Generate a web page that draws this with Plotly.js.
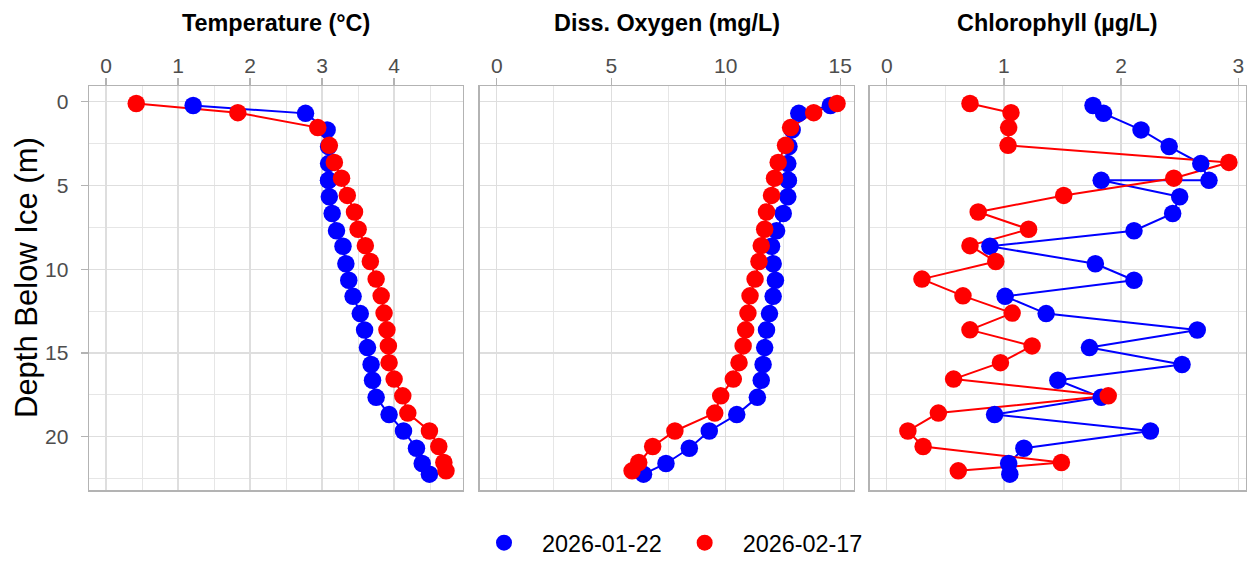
<!DOCTYPE html>
<html>
<head>
<meta charset="utf-8">
<script src="https://cdn.plot.ly/plotly-3.0.1.min.js"></script>
<style>html,body{margin:0;padding:0;background:#fff;}#chart{width:1248px;height:565px;}</style>
</head>
<body>
<div id="chart"></div>
<script>
// ---- Data ----
const seriesNames = ["2026-01-22", "2026-02-17"];
const panelTitles = ["Temperature (°C)", "Diss. Oxygen (mg/L)", "Chlorophyll (µg/L)"];
const yTitle = "Depth Below Ice (m)";

const depthJan = [0.22, 0.69, 1.68, 2.67, 3.69, 4.69, 4.69, 5.67, 6.67, 7.70, 8.63, 9.67, 10.66, 11.62, 12.65, 13.63, 14.68, 15.69, 16.63, 17.65, 18.68, 19.66, 20.69, 21.60, 22.24];
const tempJan  = [1.21, 2.77, 3.07, 3.09, 3.09, 3.09, 3.09, 3.10, 3.14, 3.20, 3.29, 3.33, 3.37, 3.43, 3.53, 3.59, 3.63, 3.68, 3.70, 3.75, 3.93, 4.13, 4.31, 4.39, 4.49];
const doJan    = [14.57, 13.19, 12.90, 12.76, 12.71, 12.73, 12.73, 12.71, 12.51, 12.22, 12.00, 12.07, 12.17, 12.07, 11.91, 11.78, 11.70, 11.63, 11.55, 11.38, 10.48, 9.28, 8.41, 7.39, 6.41];
const chlJan   = [1.76, 1.85, 2.17, 2.41, 2.68, 2.75, 1.83, 2.50, 2.44, 2.11, 0.88, 1.78, 2.11, 1.01, 1.36, 2.65, 1.73, 2.52, 1.46, 1.83, 0.92, 2.25, 1.17, 1.04, 1.05];

const depthFeb = [0.10, 0.65, 1.54, 2.60, 3.62, 4.56, 5.59, 6.58, 7.61, 8.59, 9.54, 10.59, 11.59, 12.62, 13.62, 14.58, 15.58, 16.56, 17.56, 18.59, 19.66, 20.59, 21.54, 22.04];
const tempFeb  = [0.42, 1.83, 2.94, 3.10, 3.17, 3.27, 3.35, 3.45, 3.50, 3.60, 3.67, 3.75, 3.82, 3.86, 3.90, 3.92, 3.93, 4.00, 4.12, 4.19, 4.49, 4.62, 4.69, 4.72];
const doFeb    = [14.86, 13.84, 12.83, 12.61, 12.29, 12.13, 12.00, 11.78, 11.70, 11.55, 11.45, 11.28, 11.06, 10.97, 10.87, 10.76, 10.58, 10.33, 9.78, 9.52, 7.78, 6.81, 6.20, 5.91];
const chlFeb   = [0.71, 1.06, 1.04, 1.035, 2.92, 2.45, 1.51, 0.78, 1.21, 0.71, 0.93, 0.30, 0.65, 1.07, 0.71, 1.24, 0.97, 0.57, 1.89, 0.44, 0.18, 0.31, 1.49, 0.61];

const colors = ["#0000FF", "#FF0000"];

// ---- Layout geometry ----
const W = 1248, H = 565;
const FONT = "Liberation Sans, Arial, Helvetica, sans-serif";
const panelsPx = [[89, 463], [479.7, 854], [869.7, 1246]];
const yTopPx = 87.3, yBotPx = 497.3;
const xRanges = [[-0.236, 4.956], [-0.743, 15.60], [-0.146, 3.066]];
const xDtick = [1, 5, 1];
const yRange = [23.2, -0.94];

const panelData = [
  [tempJan, tempFeb],
  [doJan, doFeb],
  [chlJan, chlFeb]
];
const depths = [depthJan, depthFeb];

const traces = [];
panelData.forEach((pd, p) => {
  const xa = p === 0 ? "x" : "x" + (p + 1);
  const ya = p === 0 ? "y" : "y" + (p + 1);
  pd.forEach((vals, s) => {
    traces.push({
      x: vals, y: depths[s], xaxis: xa, yaxis: ya, type: "scatter", mode: "lines",
      line: {color: colors[s], width: 2}, showlegend: false, hoverinfo: "skip", cliponaxis: false
    });
  });
  pd.forEach((vals, s) => {
    traces.push({
      x: vals, y: depths[s], xaxis: xa, yaxis: ya, type: "scatter", mode: "markers",
      name: seriesNames[s], legendgroup: seriesNames[s], showlegend: p === 0,
      marker: {color: colors[s], size: 17.5, line: {width: 0}}, cliponaxis: false
    });
  });
});

const layout = {
  width: W, height: H,
  margin: {l: 0, r: 0, t: 0, b: 0},
  paper_bgcolor: "#ffffff", plot_bgcolor: "#ffffff",
  font: {family: FONT, color: "#4d4d4d"},
  showlegend: true,
  legend: {
    orientation: "h", x: 466 / W, xanchor: "left", y: 1 - 551 / H, yanchor: "middle",
    font: {family: FONT, size: 23.4, color: "#000000"}, itemwidth: 66,
    bgcolor: "rgba(0,0,0,0)"
  },
  annotations: [],
  hovermode: false
};

const ydom = [1 - yBotPx / H, 1 - yTopPx / H];
panelsPx.forEach((px, p) => {
  const sfx = p === 0 ? "" : String(p + 1);
  layout["xaxis" + sfx] = {
    domain: [px[0] / W, px[1] / W], anchor: "y" + sfx, side: "top",
    range: xRanges[p], dtick: xDtick[p], tick0: 0,
    showgrid: true, gridcolor: "#dedede", gridwidth: 1.3, zeroline: false,
    minor: {dtick: xDtick[p] / 2, showgrid: true, gridcolor: "#e6e6e6", gridwidth: 1},
    showline: true, linecolor: "#b3b3b3", linewidth: 1.4, mirror: true,
    ticks: "outside", ticklen: 7, tickcolor: "#b3b3b3", tickwidth: 1.3,
    tickfont: {family: FONT, size: 21, color: "#4d4d4d"}, ticklabelstandoff: -4,
    fixedrange: true
  };
  layout["yaxis" + sfx] = {
    domain: ydom, anchor: "x" + sfx, range: yRange, dtick: 5, tick0: 0,
    showgrid: true, gridcolor: "#dedede", gridwidth: 1.3, zeroline: false,
    minor: {dtick: 2.5, showgrid: true, gridcolor: "#e6e6e6", gridwidth: 1},
    showline: true, linecolor: "#b3b3b3", linewidth: 1.4, mirror: true,
    ticks: p === 0 ? "outside" : "", ticklen: 7, tickcolor: "#b3b3b3", tickwidth: 1.3,
    showticklabels: p === 0, ticklabelstandoff: 8,
    tickfont: {family: FONT, size: 21, color: "#4d4d4d"},
    fixedrange: true
  };
  layout.annotations.push({
    text: "<b>" + panelTitles[p] + "</b>", xref: "paper", yref: "paper",
    x: (px[0] + px[1]) / 2 / W, y: 1 - 23 / H, xanchor: "center", yanchor: "middle",
    showarrow: false, font: {family: FONT, size: 23.4, color: "#000000"}
  });
});
layout.annotations.push({
  text: yTitle, xref: "paper", yref: "paper", x: 26 / W, y: 1 - 282 / H,
  xanchor: "center", yanchor: "middle", textangle: -90, showarrow: false,
  font: {family: FONT, size: 31, color: "#000000"}
});

Plotly.newPlot("chart", traces, layout, {displayModeBar: false, staticPlot: true});
</script>
</body>
</html>
